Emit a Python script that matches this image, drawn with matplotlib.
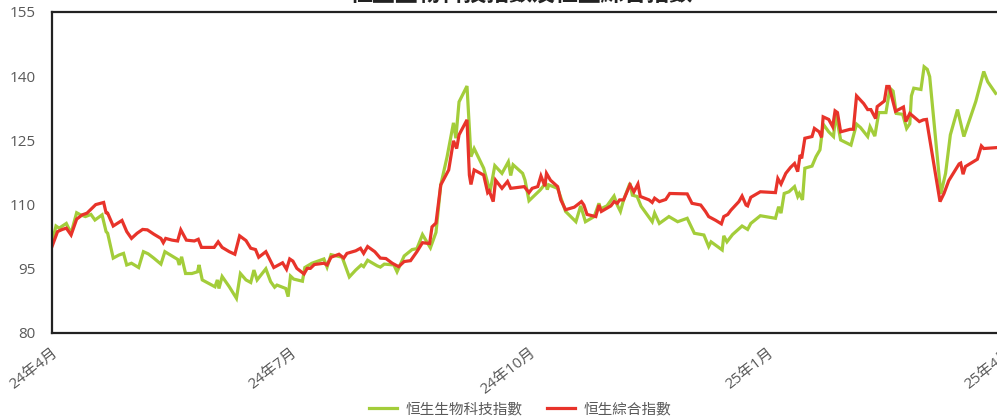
import matplotlib
matplotlib.use("Agg")
import matplotlib.pyplot as plt

plt.rcParams['font.family'] = ['Open Sans', 'Noto Sans CJK TC', 'DejaVu Sans']

title = "恒生生物科技指數及恒生綜合指數"
series_names = ["恒生生物科技指數", "恒生綜合指數"]
tick_pos = [0, 3, 6, 9, 12]
tick_labels = ["24年4月", "24年7月", "24年10月", "25年1月", "25年4月"]
y_ticks = [80, 95, 110, 125, 140, 155]

# x: months since April 2024
bio_x = [0.00, 0.05, 0.09, 0.18, 0.24, 0.31, 0.36, 0.42, 0.49, 0.54, 0.63, 0.68, 0.70, 0.77, 0.84,
         0.90, 0.94, 1.00, 1.09, 1.15, 1.21, 1.28, 1.37, 1.42, 1.51, 1.58, 1.60, 1.63, 1.68, 1.76,
         1.83, 1.85, 1.89, 1.97, 2.05, 2.08, 2.10, 2.14, 2.23, 2.32, 2.37, 2.44, 2.50, 2.54, 2.58,
         2.69, 2.75, 2.80, 2.83, 2.94, 2.97, 3.00, 3.04, 3.15, 3.18, 3.27, 3.42, 3.46, 3.51, 3.65,
         3.74, 3.82, 3.89, 3.92, 3.97, 4.09, 4.13, 4.18, 4.30, 4.34, 4.43, 4.53, 4.59, 4.66, 4.76,
         4.83, 4.89, 4.97, 5.05, 5.08, 5.12, 5.22, 5.27, 5.31, 5.43, 5.51, 5.57, 5.66, 5.74, 5.77,
         5.80, 5.92, 5.95, 6.00, 6.14, 6.21, 6.23, 6.25, 6.36, 6.41, 6.46, 6.59, 6.65, 6.71, 6.82,
         6.88, 6.90, 6.98, 7.07, 7.11, 7.15, 7.19, 7.27, 7.30, 7.36, 7.41, 7.55, 7.58, 7.64, 7.76,
         7.87, 7.99, 8.08, 8.20, 8.26, 8.29, 8.43, 8.45, 8.49, 8.56, 8.68, 8.75, 8.79, 8.91, 9.10,
         9.14, 9.17, 9.21, 9.27, 9.34, 9.38, 9.40, 9.44, 9.47, 9.56, 9.61, 9.66, 9.70, 9.77, 9.83,
         9.86, 9.92, 10.05, 10.12, 10.17, 10.26, 10.29, 10.35, 10.40, 10.49, 10.54, 10.58, 10.62,
         10.70, 10.75, 10.79, 10.81, 10.84, 10.93, 10.97, 11.01, 11.04, 11.18, 11.24, 11.30, 11.39,
         11.47, 11.62, 11.72, 11.77, 11.87]
bio_v = [101.0, 105.0, 104.5, 105.6, 103.3, 108.1, 107.6, 107.2, 107.7, 106.4, 107.6, 103.7, 103.3, 97.5, 98.2,
         98.6, 95.9, 96.3, 95.3, 99.0, 98.5, 97.5, 96.1, 99.0, 98.0, 97.2, 95.9, 97.8, 93.9, 93.9,
         94.3, 95.9, 92.4, 91.6, 90.8, 92.4, 90.4, 93.2, 90.8, 88.1, 93.9, 92.4, 91.8, 94.7, 92.4,
         95.0, 92.0, 90.7, 91.2, 90.4, 88.5, 93.3, 92.6, 92.1, 95.3, 96.3, 97.3, 95.4, 98.3, 97.7,
         93.1, 94.7, 95.9, 95.5, 97.0, 95.7, 95.4, 96.1, 95.9, 94.3, 98.0, 99.5, 99.7, 103.0, 99.9,
         103.5, 114.6, 121.2, 129.1, 125.5, 134.0, 137.7, 121.2, 123.1, 118.5, 113.0, 119.1, 117.3, 120.0, 116.8,
         119.3, 117.3, 115.7, 110.9, 113.4, 115.0, 113.5, 114.6, 113.8, 111.1, 108.4, 106.0, 109.7, 106.0, 107.2,
         110.3, 109.0, 109.7, 112.0, 109.9, 108.4, 111.1, 115.0, 112.2, 111.9, 109.6, 106.0, 108.0, 105.6, 107.2,
         106.0, 106.8, 103.3, 102.9, 100.2, 101.3, 99.4, 102.7, 101.3, 103.0, 105.0, 104.2, 105.6, 107.4, 106.8,
         109.5, 108.0, 112.6, 113.0, 114.2, 111.9, 112.6, 111.1, 118.5, 119.0, 121.2, 122.8, 128.8, 127.0, 125.9,
         131.3, 125.1, 123.9, 128.8, 128.0, 125.9, 128.2, 126.0, 131.5, 131.5, 137.2, 136.5, 131.3,
         131.1, 127.8, 128.9, 135.4, 137.2, 136.9, 142.2, 141.6, 139.9, 112.5, 117.3, 126.3, 132.2,
         125.9, 134.1, 141.1, 138.7, 136.0]

hsci_x = [0.00, 0.07, 0.13, 0.18, 0.24, 0.31, 0.38, 0.44, 0.55, 0.65, 0.68, 0.70, 0.77, 0.82, 0.88,
          0.94, 1.00, 1.07, 1.14, 1.20, 1.28, 1.37, 1.40, 1.43, 1.51, 1.58, 1.62, 1.69, 1.79, 1.84,
          1.88, 2.04, 2.09, 2.14, 2.23, 2.30, 2.36, 2.44, 2.50, 2.56, 2.60, 2.69, 2.79, 2.90, 2.95,
          2.99, 3.03, 3.08, 3.17, 3.21, 3.25, 3.30, 3.42, 3.46, 3.51, 3.61, 3.67, 3.71, 3.82, 3.88,
          3.92, 3.97, 4.06, 4.13, 4.20, 4.28, 4.36, 4.43, 4.51, 4.59, 4.66, 4.75, 4.78, 4.83, 4.89,
          4.99, 5.05, 5.09, 5.12, 5.22, 5.25, 5.27, 5.31, 5.43, 5.48, 5.50, 5.55, 5.58, 5.66, 5.73,
          5.77, 5.94, 6.00, 6.04, 6.11, 6.15, 6.20, 6.22, 6.27, 6.36, 6.40, 6.46, 6.57, 6.66, 6.69,
          6.73, 6.84, 6.88, 6.91, 7.03, 7.07, 7.11, 7.14, 7.19, 7.27, 7.32, 7.37, 7.40, 7.51, 7.55,
          7.58, 7.64, 7.72, 7.77, 7.99, 8.05, 8.16, 8.22, 8.26, 8.35, 8.42, 8.45, 8.50, 8.54, 8.64,
          8.68, 8.73, 8.75, 8.79, 8.91, 9.10, 9.13, 9.17, 9.23, 9.29, 9.34, 9.38, 9.41, 9.43, 9.47,
          9.56, 9.59, 9.65, 9.68, 9.70, 9.77, 9.82, 9.85, 9.88, 9.92, 10.04, 10.08, 10.12, 10.21, 10.26,
          10.30, 10.36, 10.38, 10.47, 10.50, 10.53, 10.61, 10.71, 10.74, 10.79, 10.91, 10.96, 11.00,
          11.17, 11.22, 11.28, 11.41, 11.43, 11.46, 11.49, 11.64, 11.69, 11.72, 11.87]
hsci_v = [100.2, 103.7, 104.2, 104.5, 102.9, 106.6, 107.6, 108.0, 110.0, 110.5, 108.1, 108.0, 105.0, 105.6, 106.3,
          103.7, 102.1, 103.3, 104.2, 104.1, 103.1, 102.1, 101.1, 102.1, 101.7, 101.5, 104.1, 101.7, 101.5, 101.9,
          100.0, 100.0, 101.3, 100.0, 99.0, 98.4, 102.7, 101.6, 99.8, 99.5, 97.7, 99.0, 95.3, 96.4, 94.9,
          97.3, 96.8, 95.1, 93.8, 95.1, 95.1, 96.0, 96.3, 95.9, 97.7, 98.4, 97.5, 98.6, 99.2, 99.8,
          98.6, 100.2, 99.0, 97.5, 97.4, 96.3, 95.5, 96.7, 96.9, 99.0, 101.1, 100.9, 104.8, 105.7, 114.6,
          118.1, 124.9, 123.1, 126.3, 129.8, 116.9, 114.7, 118.1, 116.9, 112.8, 113.2, 110.7, 115.7, 113.8, 115.4,
          113.8, 114.2, 112.8, 113.8, 114.2, 116.7, 114.3, 117.3, 115.7, 114.2, 111.1, 108.8, 109.4, 110.7, 109.9,
          107.7, 107.2, 109.9, 108.4, 109.7, 110.7, 110.3, 111.1, 111.1, 114.6, 113.0, 114.8, 111.9, 111.1, 110.5,
          111.5, 110.7, 111.2, 112.6, 112.5, 110.3, 109.9, 108.4, 107.2, 106.3, 105.5, 107.2, 107.7, 108.7, 110.7,
          112.0, 109.9, 109.7, 111.7, 113.0, 112.8, 116.1, 114.8, 117.3, 118.7, 119.6, 117.7, 121.6, 120.8, 125.5,
          125.9, 127.8, 127.0, 125.7, 130.5, 129.9, 128.2, 131.9, 131.5, 127.0, 127.6, 127.6, 135.4, 133.6, 132.2,
          132.2, 130.1, 132.9, 134.2, 137.6, 137.6, 131.8, 132.8, 129.4, 131.3, 129.4, 129.8, 129.9,
          110.7, 112.6, 115.6, 119.5, 119.7, 117.1, 118.9, 120.6, 123.7, 123.1, 123.3]

green = "#A3CD3A"
red = "#E8332A"
text_gray = "#595959"

fig = plt.figure(figsize=(9.97, 4.16), dpi=100)
ax = fig.add_axes([52 / 997, 83 / 416, 954 / 997, 321 / 416])

ax.plot(bio_x, bio_v, color=green, lw=2.3, label=series_names[0], solid_joinstyle='miter')
ax.plot(hsci_x, hsci_v, color=red, lw=2.3, label=series_names[1], solid_joinstyle='miter')

ax.set_xlim(0, 12)
ax.set_ylim(80, 155)
ax.set_yticks(y_ticks)
ax.set_xticks(tick_pos)
ax.set_xticklabels(tick_labels, rotation=38, ha='right', va='top', rotation_mode='anchor')
ax.tick_params(axis='both', length=0, colors=text_gray, labelsize=11)
ax.tick_params(axis='x', pad=9)
ax.tick_params(axis='y', pad=12)

for s in ['top', 'left', 'bottom']:
    ax.spines[s].set_color('#222222')
    ax.spines[s].set_linewidth(1.6)
ax.spines['right'].set_visible(False)

fig.text(0.523, 1.012, title, ha='center', va='center', fontsize=16.5, fontweight='bold',
         color='#222222', family=['Noto Sans CJK TC'])

leg = fig.legend(loc='center', bbox_to_anchor=(0.522, 6 / 416), ncol=2, frameon=False,
                 fontsize=10.5, handlelength=1.9, handletextpad=0.6, columnspacing=1.7)
for t in leg.get_texts():
    t.set_color(text_gray)

fig.savefig("out.png", dpi=100)
